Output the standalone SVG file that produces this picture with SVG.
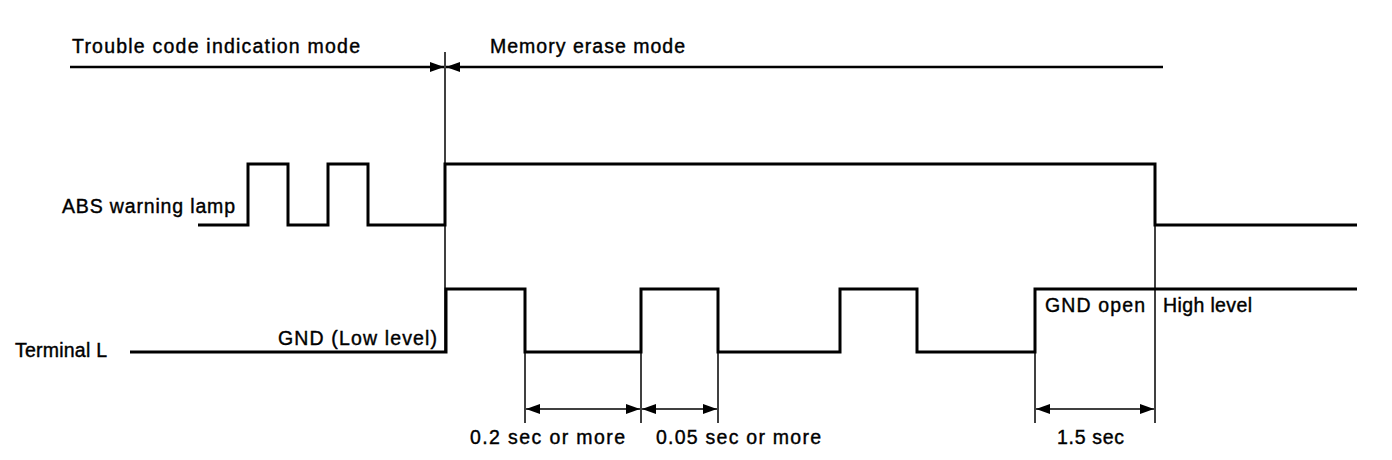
<svg xmlns="http://www.w3.org/2000/svg" width="1392" height="460" viewBox="0 0 1392 460">
<style>
text{font-family:"Liberation Sans",Arial,sans-serif;font-size:19.5px;fill:#000;stroke:#000;stroke-width:0.4}
.wave{fill:none;stroke:#000;stroke-width:3;stroke-linejoin:miter}
.thin{fill:none;stroke:#000;stroke-width:1.5}
.mode{fill:none;stroke:#000;stroke-width:2.5}
</style>
<defs>
<marker id="ah" viewBox="0 0 14 10" refX="14" refY="5" markerWidth="14" markerHeight="10" markerUnits="userSpaceOnUse" orient="auto-start-reverse">
<path d="M0,0 L14,5 L0,10 Z" fill="#000"/>
</marker>
</defs>
<g id="labels">
<text x="72" y="53" textLength="288" lengthAdjust="spacing">Trouble code indication mode</text>
<text x="490" y="53" textLength="195" lengthAdjust="spacing">Memory erase mode</text>
<text x="62" y="213" textLength="173" lengthAdjust="spacing">ABS warning lamp</text>
<text x="15" y="357" textLength="92" lengthAdjust="spacing">Terminal L</text>
<text x="278" y="345" textLength="159" lengthAdjust="spacing">GND (Low level)</text>
<text x="1045" y="312" textLength="100" lengthAdjust="spacing">GND open</text>
<text x="1163" y="312" textLength="89" lengthAdjust="spacing">High level</text>
<text x="470" y="444" textLength="155" lengthAdjust="spacing">0.2 sec or more</text>
<text x="656" y="444" textLength="165" lengthAdjust="spacing">0.05 sec or more</text>
<text x="1057" y="444" textLength="67" lengthAdjust="spacing">1.5 sec</text>
</g>
<g id="abs-lamp">
<path class="wave" d="M198,225 H248 V164 H288 V225 H328 V164 H368 V225 H445 V164 H1155 V225 H1357"/>
</g>
<g id="terminal-l">
<path class="wave" d="M130,352 H446 V289 H525 V352 H641 V289 H718 V352 H840 V289 H917 V352 H1035 V289 H1357"/>
</g>
<g id="connectors">
<line class="mode" x1="70" y1="67" x2="444" y2="67" marker-end="url(#ah)"/>
<line class="mode" x1="446" y1="67" x2="1163" y2="67" marker-start="url(#ah)"/>
<line class="thin" x1="445" y1="52" x2="445" y2="352"/>
<line class="thin" x1="1155" y1="225" x2="1155" y2="423"/>
<line class="thin" x1="525" y1="352" x2="525" y2="423"/>
<line class="thin" x1="641" y1="352" x2="641" y2="423"/>
<line class="thin" x1="718" y1="352" x2="718" y2="423"/>
<line class="thin" x1="1035" y1="352" x2="1035" y2="423"/>
<line class="thin" x1="526" y1="409" x2="640" y2="409" marker-start="url(#ah)" marker-end="url(#ah)"/>
<line class="thin" x1="642" y1="409" x2="717" y2="409" marker-start="url(#ah)" marker-end="url(#ah)"/>
<line class="thin" x1="1036" y1="409" x2="1154" y2="409" marker-start="url(#ah)" marker-end="url(#ah)"/>
</g>
</svg>
